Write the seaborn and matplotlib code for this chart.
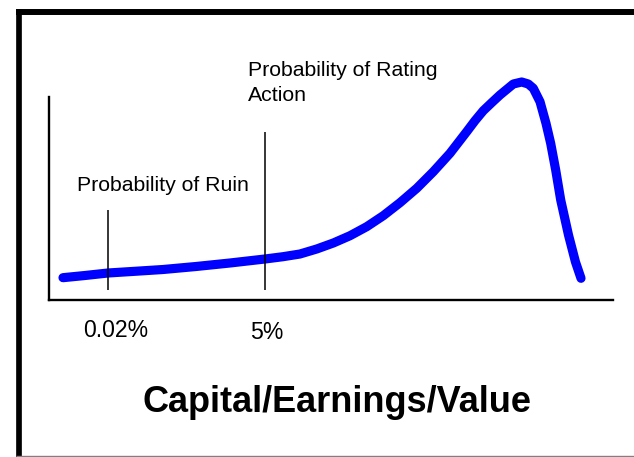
import matplotlib
matplotlib.use("Agg")
import matplotlib.pyplot as plt
from matplotlib.lines import Line2D
import seaborn as sns
import pandas as pd

# ---- data (x and y in arbitrary 0-100 units) ----
curve_x = [2.48, 6.38, 10.46, 15.25, 20.21, 26.06, 32.09, 38.30, 41.49, 44.50,
           47.46, 50.41, 53.37, 56.33, 59.27, 62.23, 65.20, 68.14, 71.10, 74.06,
           75.53, 77.00, 78.49, 79.96, 82.32, 83.81, 84.98, 85.87, 87.06, 88.12,
           88.95, 89.84, 90.73, 92.11, 93.35, 94.33]
curve_y = [10.99, 12.07, 13.30, 14.14, 15.02, 16.50, 18.23, 20.20, 21.33, 22.66,
           25.12, 28.08, 31.67, 36.11, 41.53, 47.93, 55.02, 63.20, 72.27, 82.91,
           88.33, 93.25, 97.19, 100.99, 106.40, 107.39, 106.40, 104.29, 97.68, 87.04,
           77.19, 64.04, 49.26, 32.02, 18.72, 10.69]

marker_x = [10.46, 38.30]          # vertical marker lines
marker_top = [44.2, 82.8]
marker_bottom = 4.9

tick_labels = ["0.02%", "5%"]
annot_ruin = "Probability of Ruin"
annot_rating = ["Probability of Rating", "Action"]
xlabel = "Capital/Earnings/Value"

df = pd.DataFrame({"x": curve_x, "y": curve_y})

sns.set_style("white")
plt.rcParams["font.family"] = ["Liberation Sans", "DejaVu Sans"]
plt.rcParams["text.color"] = "black"

W, H = 634, 457
fig = plt.figure(figsize=(W / 100, H / 100), dpi=100)
fig.patch.set_facecolor("white")

def fx(px):
    return px / W

def fy(py):
    return 1 - py / H

ax = fig.add_axes([fx(49), fy(300), fx(613) - fx(49), fy(70) - fy(300)])
ax.set_xlim(0, 100)
ax.set_ylim(0, 113.3)
ax.set_facecolor("white")

sns.lineplot(data=df, x="x", y="y", ax=ax, color="#0000ff", linewidth=6.6,
             solid_capstyle="round", solid_joinstyle="round", estimator=None,
             sort=False, zorder=3)

ax.vlines(marker_x, marker_bottom, marker_top, color="black", linewidth=1.1, zorder=4)

for s in ["top", "right"]:
    ax.spines[s].set_visible(False)
for s in ["left", "bottom"]:
    ax.spines[s].set_color("black")
    ax.spines[s].set_linewidth(1.7)
ax.spines["left"].set_bounds(0, 100)
ax.set_xticks([])
ax.set_yticks([])
ax.set_xlabel("")
ax.set_ylabel("")

# annotations (data coords)
tkw = dict(ha="left", va="baseline", clip_on=False, color="black")
ax.text(4.91, 53.8, annot_ruin, fontsize=15.3, **tkw)
ax.text(35.3, 110.5, annot_rating[0], fontsize=15.3, **tkw)
ax.text(35.3, 98.2, annot_rating[1], fontsize=15.3, **tkw)
ax.text(6.08, -18.1, tick_labels[0], fontsize=16.6, **tkw)
ax.text(35.6, -19.2, tick_labels[1], fontsize=16.6, **tkw)

fig.text(fx(336.7), fy(411.7), xlabel, fontsize=26, fontweight="bold",
         ha="center", va="baseline", color="black")

# outer frame
fig.add_artist(Line2D([fx(16), fx(W + 5)], [fy(11.5), fy(11.5)], color="black",
                      linewidth=4.3, solid_capstyle="butt"))
fig.add_artist(Line2D([fx(19), fx(19)], [fy(8.5), fy(H + 5)], color="black",
                      linewidth=4.1, solid_capstyle="butt"))
fig.add_artist(Line2D([fx(16), fx(W + 5)], [fy(456), fy(456)], color="#808080",
                      linewidth=1.0, solid_capstyle="butt"))

fig.savefig("out.png", dpi=100, facecolor="white")
